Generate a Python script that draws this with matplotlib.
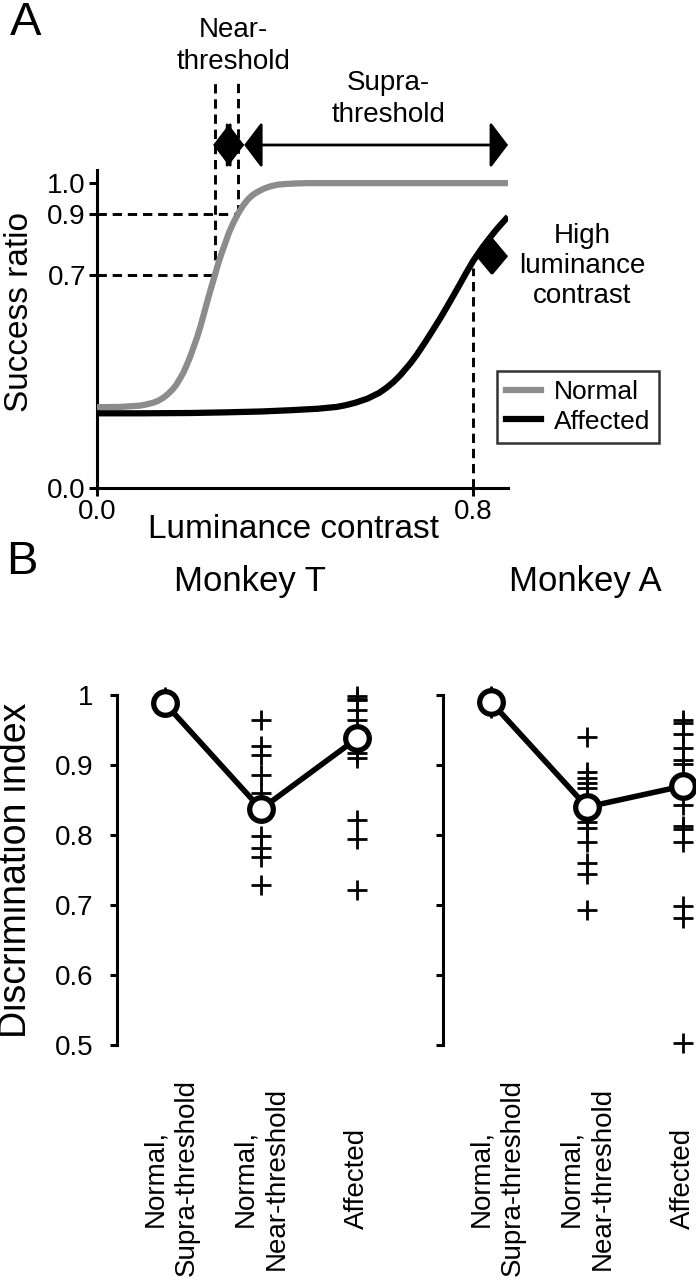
import matplotlib.pyplot as plt
from matplotlib.patches import ArrowStyle
from matplotlib.lines import Line2D

plt.rcParams['font.family'] = ['Liberation Sans', 'DejaVu Sans']

# ---- panel A: schematic psychometric curves ----
contrast_normal = [0, 0.05, 0.09, 0.105, 0.12, 0.13, 0.14, 0.15, 0.16, 0.168, 0.175, 0.183,
                   0.19, 0.198, 0.205, 0.213, 0.22, 0.228, 0.235, 0.243, 0.251, 0.258,
                   0.265, 0.272, 0.28, 0.29, 0.30, 0.31, 0.32, 0.33, 0.34, 0.355, 0.37,
                   0.385, 0.40, 0.425, 0.45, 0.874]
success_normal = [0.265, 0.266, 0.27, 0.274, 0.28, 0.286, 0.295, 0.307, 0.322, 0.337, 0.355,
                  0.376, 0.40, 0.43, 0.46, 0.495, 0.53, 0.575, 0.615, 0.658, 0.70, 0.737,
                  0.77, 0.80, 0.835, 0.87, 0.90, 0.925, 0.945, 0.96, 0.97, 0.982, 0.99,
                  0.995, 0.997, 0.999, 1.0, 1.0]
contrast_affected = [0, 0.10, 0.20, 0.27, 0.35, 0.41, 0.47, 0.51, 0.53, 0.55, 0.575, 0.60,
                     0.615, 0.63, 0.645, 0.667, 0.68, 0.696, 0.713, 0.73, 0.746, 0.762,
                     0.774, 0.786, 0.80, 0.82, 0.834, 0.848, 0.861, 0.874]
success_affected = [0.245, 0.245, 0.246, 0.248, 0.251, 0.255, 0.26, 0.266, 0.272, 0.28,
                    0.293, 0.312, 0.328, 0.347, 0.37, 0.41, 0.437, 0.474, 0.515, 0.557,
                    0.599, 0.642, 0.675, 0.708, 0.745, 0.79, 0.818, 0.845, 0.868, 0.89]
near_lo, near_hi = 0.251, 0.30
high_contrast = 0.8
x_end = 0.874

# ---- panel B: discrimination index ----
categories = ["Normal,\nSupra-threshold", "Normal,\nNear-threshold", "Affected"]
t_mean = [0.988, 0.837, 0.938]
t_supra = [0.997, 0.99, 0.985]
t_near = [0.964, 0.927, 0.914, 0.886, 0.86, 0.848, 0.835, 0.798, 0.781, 0.769, 0.729]
t_aff = [0.998, 0.995, 0.993, 0.979, 0.964, 0.94, 0.917, 0.910, 0.821, 0.795, 0.721]
a_mean = [0.990, 0.840, 0.870]
a_supra = [0.998, 0.99, 0.981]
a_near = [0.940, 0.890, 0.881, 0.874, 0.867, 0.85, 0.819, 0.810, 0.790, 0.760, 0.745, 0.693]
a_aff = [0.964, 0.960, 0.945, 0.924, 0.907, 0.901, 0.87, 0.843, 0.813, 0.808, 0.790,
         0.698, 0.681, 0.503]

W, H = 696, 1280
fig = plt.figure(figsize=(W / 100, H / 100), dpi=100)


def fx(px):
    return px / W


def fy(py):
    return 1 - py / H


GRAY = '#8c8c8c'
SPW = 2.2

# ================= panel A =================
axA = fig.add_axes([fx(97), fy(488), fx(508 - 97), (488 - 170) / H])
axA.plot(contrast_normal, success_normal, color=GRAY, lw=4.5, solid_capstyle='butt',
         solid_joinstyle='round', zorder=3)
axA.plot(contrast_affected, success_affected, color='k', lw=4.5, solid_capstyle='butt',
         solid_joinstyle='round', zorder=3)
axA.set_xlim(0, x_end)
axA.set_ylim(0, 1.043)
for s in ['top', 'right']:
    axA.spines[s].set_visible(False)
for s in ['left', 'bottom']:
    axA.spines[s].set_linewidth(SPW)
axA.set_yticks([0, 0.7, 0.9, 1.0], ['0.0', '0.7', '0.9', '1.0'])
axA.set_xticks([0, 0.8], ['0.0', '0.8'])
axA.tick_params(width=SPW, length=6, labelsize=20, pad=2)

dash = dict(color='k', lw=2.1, ls=(0, (3.2, 2.0)), clip_on=False, zorder=2)
axA.plot([0, near_hi], [0.9, 0.9], **dash)
axA.plot([0, near_lo], [0.7, 0.7], **dash)
axA.plot([near_lo, near_lo], [0.7, 1.338], **dash)
axA.plot([near_hi, near_hi], [0.9, 1.338], **dash)
axA.plot([high_contrast, high_contrast], [0, 0.72], **dash)


def dbl_arrow(x0, x1, y, hw=14.5, hl=11):
    axA.annotate('', xy=(x1, y), xytext=(x0, y), annotation_clip=False,
                 arrowprops=dict(arrowstyle=ArrowStyle('<|-|>', head_length=hl, head_width=hw),
                                 mutation_scale=1, lw=2, color='k',
                                 shrinkA=0, shrinkB=0))


arrow_y = 1.125
dbl_arrow(0.247, 0.313, arrow_y)
dbl_arrow(0.313, x_end, arrow_y)
dbl_arrow(0.806, x_end, 0.76, hw=12, hl=10)

axA.text(0.291, 1.45, 'Near-\nthreshold', ha='center', va='center', fontsize=20,
         linespacing=1.3)
axA.text(0.619, 1.277, 'Supra-\nthreshold', ha='center', va='center', fontsize=20,
         linespacing=1.3)
axA.text(1.032, 0.728, 'High\nluminance\ncontrast', ha='center', va='center', fontsize=20,
         linespacing=1.2, clip_on=False)

handles = [Line2D([], [], color=GRAY, lw=4.5), Line2D([], [], color='k', lw=4.5)]
leg = axA.legend(handles, ['Normal', 'Affected'], loc='upper left',
                 bbox_to_anchor=((497 - 97) / 411, 1 - (371 - 170) / 318),
                 frameon=True, fancybox=False, handlelength=1.3, handletextpad=0.5,
                 borderpad=0.35, labelspacing=0.2, borderaxespad=0,
                 prop={'size': 19})
leg.get_frame().set_edgecolor('k')
leg.get_frame().set_linewidth(1.8)

fig.text(fx(294), fy(530), 'Luminance contrast', ha='center', va='center', fontsize=24)
fig.text(fx(20), fy(312), 'Success ratio', ha='center', va='center', fontsize=24,
         rotation=90)
fig.text(fx(26), fy(23), 'A', ha='center', va='center', fontsize=34)

# ================= panel B =================
xs = [0, 1, 2]


def monkey_panel(left, means, groups, title, title_x, show_labels):
    ax = fig.add_axes([fx(left), fy(1045), fx(252.5), 350 / H])
    for i, vals in enumerate(groups):
        ax.plot([xs[i]] * len(vals), vals, ls='none', marker='+', ms=14, mew=2,
                color='k', clip_on=False, zorder=2)
    ax.plot(xs, means, color='k', lw=4, clip_on=False, zorder=3)
    ax.plot(xs, means, ls='none', marker='o', ms=17, mew=3.8, mfc='white', mec='k',
            clip_on=False, zorder=4)
    ax.set_xlim(-0.5, 2.13)
    ax.set_ylim(0.5, 1.0)
    for s in ['top', 'right', 'bottom']:
        ax.spines[s].set_visible(False)
    ax.spines['left'].set_linewidth(SPW)
    ax.set_xticks([])
    ax.set_yticks([0.5, 0.6, 0.7, 0.8, 0.9, 1.0])
    if show_labels:
        ax.set_yticklabels(['0.5', '0.6', '0.7', '0.8', '0.9', '1'])
    else:
        ax.set_yticklabels([])
    ax.tick_params(axis='y', width=SPW, length=5, labelsize=20, pad=12)
    y_lab = (1045 - 1178) / 350
    for i, cat in enumerate(categories):
        ax.text(xs[i] + (0.06 if i == 0 else 0), y_lab, cat, rotation=90, ha='center',
                va='center', multialignment='center', fontsize=20, linespacing=1.3,
                transform=ax.get_xaxis_transform(), clip_on=False)
    fig.text(fx(title_x), fy(582), title, ha='center', va='center', fontsize=25)
    return ax


axT = monkey_panel(117, t_mean, [t_supra, t_near, t_aff], 'Monkey T', 250, True)
axA2 = monkey_panel(443, a_mean, [a_supra, a_near, a_aff], 'Monkey A', 585, False)

fig.text(fx(16), fy(870), 'Discrimination index', ha='center', va='center',
         fontsize=27, rotation=90)
fig.text(fx(22), fy(562), 'B', ha='center', va='center', fontsize=34)

fig.savefig('out.png', dpi=100)
